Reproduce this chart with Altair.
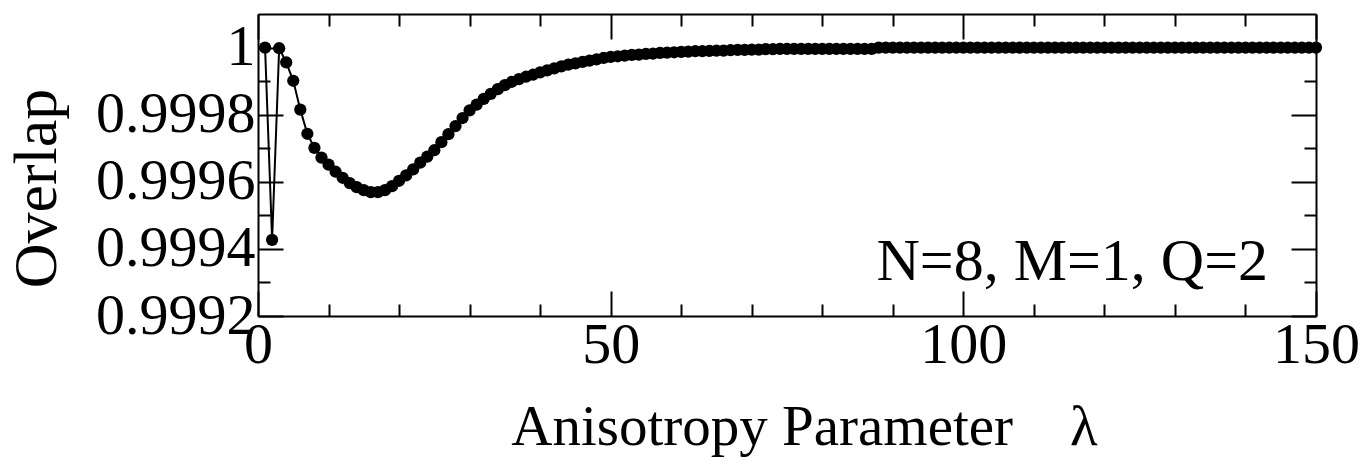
import altair as alt
import pandas as pd

# Anisotropy parameter lambda (1..150) and overlap values
lam = list(range(1, 151))
overlap = [
    1.000000, 0.999427, 0.999998, 0.999956, 0.999901, 0.999815, 0.999743, 0.999701, 0.999672, 0.999651,
    0.999630, 0.999612, 0.999596, 0.999584, 0.999575, 0.999569, 0.999569, 0.999575, 0.999587, 0.999603,
    0.999619, 0.999637, 0.999657, 0.999675, 0.999694, 0.999718, 0.999742, 0.999766, 0.999790, 0.999813,
    0.999830, 0.999847, 0.999862, 0.999876, 0.999888, 0.999898, 0.999906, 0.999913, 0.999919, 0.999926,
    0.999932, 0.999938, 0.999944, 0.999949, 0.999953, 0.999957, 0.999961, 0.999965, 0.999969, 0.999972,
    0.999974, 0.999976, 0.999978, 0.999979, 0.999981, 0.999982, 0.999984, 0.999985, 0.999986, 0.999987,
    0.999988, 0.999989, 0.999989, 0.999990, 0.999991, 0.999991, 0.999992, 0.999993, 0.999993, 0.999994,
    0.999994, 0.999995, 0.999995, 0.999996, 0.999996, 0.999996, 0.999996, 0.999996, 0.999996, 0.999996,
    0.999996, 0.999996, 0.999996, 0.999996, 0.999996, 0.999996, 0.999996, 1.000000, 1.000000, 1.000000,
    1.000000, 1.000000, 1.000000, 1.000000, 1.000000, 1.000000, 1.000000, 1.000000, 1.000000, 1.000000,
    1.000000, 1.000000, 1.000000, 1.000000, 1.000000, 1.000000, 1.000000, 1.000000, 1.000000, 1.000000,
    1.000000, 1.000000, 1.000000, 1.000000, 1.000000, 1.000000, 1.000000, 1.000000, 1.000000, 1.000000,
    1.000000, 1.000000, 1.000000, 1.000000, 1.000000, 1.000000, 1.000000, 1.000000, 1.000000, 1.000000,
    1.000000, 1.000000, 1.000000, 1.000000, 1.000000, 1.000000, 1.000000, 1.000000, 1.000000, 1.000000,
    1.000000, 1.000000, 1.000000, 1.000000, 1.000000, 1.000000, 1.000000, 1.000000, 1.000000, 1.000000,
]

x_major = [0, 50, 100, 150]
x_minor = [10, 20, 30, 40, 60, 70, 80, 90, 110, 120, 130, 140]
y_major = [0.9992, 0.9994, 0.9996, 0.9998, 1.0]
y_minor = [0.9993, 0.9995, 0.9997, 0.9999]
x_title = "Anisotropy Parameter\u00a0\u00a0\u00a0\u00a0\u03bb"
y_title = "Overlap"
note = "N=8, M=1, Q=2"

df = pd.DataFrame({"lam": lam, "ov": overlap})

FONT = "Liberation Serif"
MAJ = 25
MIN = 12

xs = alt.Scale(domain=[0, 150], nice=False, zero=False)
ys = alt.Scale(domain=[0.9992, 1.0001], nice=False, zero=False)

common = dict(grid=False, tickColor="black", tickWidth=2,
              labelFont=FONT, labelColor="black", labelFontSize=58)

ax_bottom_major = alt.Axis(orient="bottom", values=x_major, tickSize=MAJ, offset=-MAJ,
                           domain=False, labelPadding=0, format="d", labelFlush=False,
                           labelOverlap=False,
                           title=x_title, titleFont=FONT, titleFontSize=57,
                           titleFontWeight="normal", titleColor="black", titlePadding=25,
                           titleX=546,
                           **common)
ax_left_major = alt.Axis(orient="left", values=y_major, tickSize=MAJ, offset=-MAJ,
                         domain=False, labelPadding=3, labelFlush=False, labelOverlap=False,
                         labelExpr="abs(datum.value - 1) < 1e-9 ? '1' : format(datum.value, '.4f')",
                         title=y_title, titleFont=FONT, titleFontSize=62,
                         titleFontWeight="normal", titleColor="black", titlePadding=27,
                         titleY=174,
                         **common)
ax_top_major = alt.Axis(orient="top", values=x_major, tickSize=MAJ, offset=-MAJ,
                        domain=False, labels=False, title=None, **common)
ax_right_major = alt.Axis(orient="right", values=y_major, tickSize=MAJ, offset=-MAJ,
                          domain=False, labels=False, title=None, **common)
ax_bottom_minor = alt.Axis(orient="bottom", values=x_minor, tickSize=MIN, offset=-MIN,
                           domain=False, labels=False, title=None, **common)
ax_left_minor = alt.Axis(orient="left", values=y_minor, tickSize=MIN, offset=-MIN,
                         domain=False, labels=False, title=None, **common)
ax_top_minor = alt.Axis(orient="top", values=x_minor, tickSize=MIN, offset=-MIN,
                        domain=False, labels=False, title=None, **common)
ax_right_minor = alt.Axis(orient="right", values=y_minor, tickSize=MIN, offset=-MIN,
                          domain=False, labels=False, title=None, **common)
# frame lines (axis domains at the plot edges)
ax_bottom_frame = alt.Axis(orient="bottom", domain=True, domainColor="black", domainWidth=2,
                           ticks=False, labels=False, title=None, grid=False)
ax_left_frame = alt.Axis(orient="left", domain=True, domainColor="black", domainWidth=2,
                         ticks=False, labels=False, title=None, grid=False)
ax_top_frame = alt.Axis(orient="top", domain=True, domainColor="black", domainWidth=2,
                        ticks=False, labels=False, title=None, grid=False)
ax_right_frame = alt.Axis(orient="right", domain=True, domainColor="black", domainWidth=2,
                          ticks=False, labels=False, title=None, grid=False)

base = alt.Chart(df)

line = base.mark_line(color="black", strokeWidth=2).encode(
    x=alt.X("lam:Q", scale=xs, axis=ax_bottom_major),
    y=alt.Y("ov:Q", scale=ys, axis=ax_left_major),
)
pts = base.mark_circle(color="black", size=150, opacity=1).encode(
    x=alt.X("lam:Q", scale=xs, axis=ax_top_major),
    y=alt.Y("ov:Q", scale=ys, axis=ax_right_major),
)
minor1 = base.mark_point(opacity=0).encode(
    x=alt.X("lam:Q", scale=xs, axis=ax_bottom_minor),
    y=alt.Y("ov:Q", scale=ys, axis=ax_left_minor),
)
minor2 = base.mark_point(opacity=0).encode(
    x=alt.X("lam:Q", scale=xs, axis=ax_top_minor),
    y=alt.Y("ov:Q", scale=ys, axis=ax_right_minor),
)
frame1 = base.mark_point(opacity=0).encode(
    x=alt.X("lam:Q", scale=xs, axis=ax_bottom_frame),
    y=alt.Y("ov:Q", scale=ys, axis=ax_left_frame),
)
frame2 = base.mark_point(opacity=0).encode(
    x=alt.X("lam:Q", scale=xs, axis=ax_top_frame),
    y=alt.Y("ov:Q", scale=ys, axis=ax_right_frame),
)
txt = alt.Chart(pd.DataFrame({"t": [note]})).mark_text(
    font=FONT, fontSize=60, align="right", baseline="alphabetic", color="black"
).encode(x=alt.value(1010), y=alt.value(266), text="t:N")

chart = alt.layer(frame1, frame2, minor1, minor2, line, pts, txt).resolve_axis(
    x="independent", y="independent"
).properties(
    width=1058, height=302,
    background="white",
    autosize=alt.AutoSizeParams(type="none"),
    padding={"left": 250, "top": 6, "right": 42, "bottom": 144},
).configure_view(stroke=None)

chart.save("out.html", embed_options={"renderer": "svg", "actions": False})
